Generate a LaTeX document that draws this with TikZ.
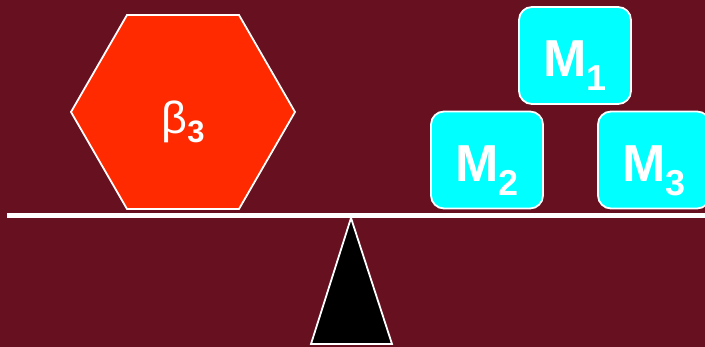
\documentclass[tikz,border=0pt]{standalone}
\usepackage{fontspec}
\setmainfont{Liberation Sans}
\usetikzlibrary{shapes.geometric}
\definecolor{bgmaroon}{RGB}{102,16,32}
\definecolor{hexred}{RGB}{255,42,0}
\definecolor{boxcyan}{RGB}{0,255,255}
\newcommand{\lowsub}[3]{\raisebox{-#1}{\fontsize{#2}{#2}\selectfont #3}}

\begin{document}
\begin{tikzpicture}[x=1pt, y=1pt,
  mass/.style={draw=white, line width=1.8pt, fill=boxcyan, rounded corners=13pt, minimum width=112pt, minimum height=97pt, inner sep=0pt, text=white, font=\fontsize{52}{52}\selectfont\bfseries, text height=57pt, text depth=14pt},
  weight/.style={regular polygon, regular polygon sides=6, draw=white, line width=1.8pt, fill=hexred, minimum size=224pt, inner sep=0pt, text=white, text height=54pt, text depth=10pt},
  beam/.style={white, line width=4.5pt},
  pivot/.style={draw=white, fill=black, line width=1.8pt}]
\useasboundingbox (0,0) rectangle (705,347);
\clip (0,0) rectangle (705,347);
\fill[bgmaroon] (0,0) rectangle (705,347);
\node[weight] (beta) at (183,235) {\fontsize{45}{45}\selectfont β\lowsub{9pt}{31}{\bfseries 3}};
\node[mass] (m1) at (575,291.5) {M\lowsub{14pt}{36}{1}};
\node[mass] (m2) at (487,187) {M\lowsub{14pt}{36}{2}};
\node[mass] (m3) at (654,187) {M\lowsub{14pt}{36}{3}};
\coordinate (left end) at (7,131.5);
\coordinate (right end) at (710,131.5);
\draw[beam] (left end) -- (right end);
\coordinate (tip) at (351,129);
\draw[pivot] (tip) -- (311,3) -- (392,3) -- cycle;
\end{tikzpicture}
\end{document}
